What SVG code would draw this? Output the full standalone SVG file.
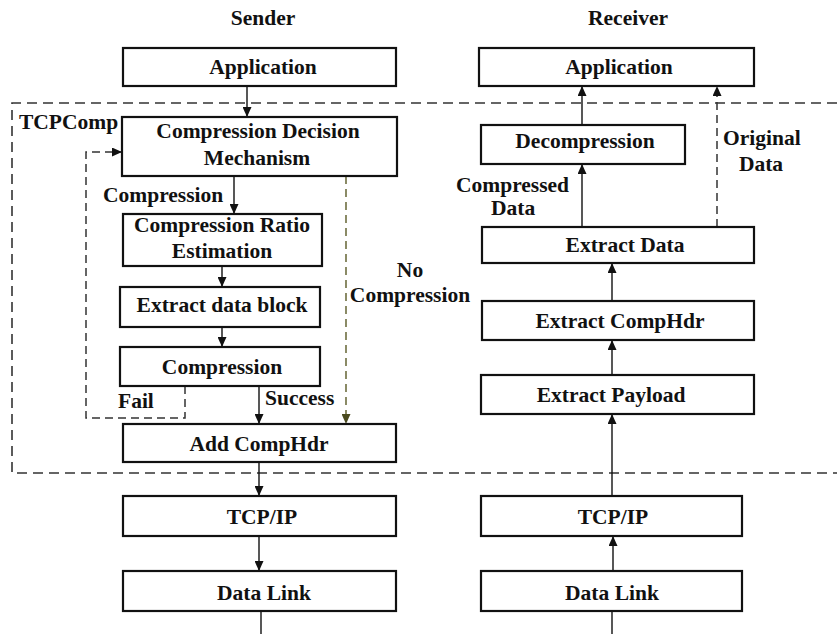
<svg xmlns="http://www.w3.org/2000/svg" width="837" height="634" viewBox="0 0 837 634">
<defs>
<style>
text{font-family:"Liberation Serif","Times New Roman",serif;font-weight:bold;font-size:21.5px;fill:#111}
.c{text-anchor:middle}
.box{fill:#fff;stroke:#111;stroke-width:2.2}
.ln{fill:none;stroke:#111;stroke-width:1.4}
.dash{fill:none;stroke:#333;stroke-width:1.6;stroke-dasharray:10 6}
.dash2{fill:none;stroke:#333;stroke-width:1.5;stroke-dasharray:8 5}
.olive{fill:none;stroke:#5a5a26;stroke-width:1.4;stroke-dasharray:8 5}
</style>
<marker id="ah" markerUnits="userSpaceOnUse" markerWidth="10" markerHeight="9" refX="10" refY="4.5" orient="auto">
<path d="M0,0 L10,4.5 L0,9 z" fill="#111"/>
</marker>
<marker id="ahO" markerUnits="userSpaceOnUse" markerWidth="10" markerHeight="9" refX="10" refY="4.5" orient="auto">
<path d="M0,0 L10,4.5 L0,9 z" fill="#4a4a1e"/>
</marker>
</defs>
<rect width="837" height="634" fill="#fff"/>

<g id="tcpcomp-region">
<path class="dash" d="M837,103 H12 V473 H837"/>
<text x="19" y="129">TCPComp</text>
</g>

<g id="headers">
<text class="c" x="263" y="25" font-size="21">Sender</text>
<text class="c" x="628" y="25" font-size="21">Receiver</text>
</g>

<g id="connectors">
<line class="ln" x1="247" y1="86" x2="247" y2="117" marker-end="url(#ah)"/>
<line class="ln" x1="234" y1="176" x2="234" y2="214" marker-end="url(#ah)"/>
<line class="ln" x1="222" y1="266" x2="222" y2="287" marker-end="url(#ah)"/>
<line class="ln" x1="222" y1="327" x2="222" y2="347" marker-end="url(#ah)"/>
<line class="ln" x1="259" y1="386" x2="259" y2="424" marker-end="url(#ah)"/>
<line class="olive" x1="346" y1="176" x2="346" y2="424" marker-end="url(#ahO)"/>
<path class="dash2" d="M185,386 V418 H86 V152 H122" marker-end="url(#ah)"/>
<line class="ln" x1="259" y1="462" x2="259" y2="496" marker-end="url(#ah)"/>
<line class="ln" x1="259" y1="536" x2="259" y2="571" marker-end="url(#ah)"/>
<line class="ln" x1="261" y1="611" x2="261" y2="634" stroke-width="2"/>
<line class="ln" x1="613" y1="571" x2="613" y2="536" marker-end="url(#ah)"/>
<line class="ln" x1="612" y1="496" x2="612" y2="414" marker-end="url(#ah)"/>
<line class="ln" x1="612" y1="375" x2="612" y2="340" marker-end="url(#ah)"/>
<line class="ln" x1="612" y1="301" x2="612" y2="263" marker-end="url(#ah)"/>
<line class="ln" x1="582" y1="227" x2="582" y2="164" marker-end="url(#ah)"/>
<line class="ln" x1="582" y1="125" x2="582" y2="86" marker-end="url(#ah)"/>
<line class="dash2" x1="717" y1="227" x2="717" y2="86" marker-end="url(#ah)"/>
<line class="ln" x1="612" y1="611" x2="612" y2="634" stroke-width="2"/>
<text x="103" y="202">Compression</text>
<text x="118" y="408">Fail</text>
<text x="265" y="405">Success</text>
<text class="c" x="410" y="277">No</text>
<text class="c" x="410" y="302">Compression</text>
<text x="456" y="192">Compressed</text>
<text x="491" y="215">Data</text>
<text x="723" y="145">Original</text>
<text class="c" x="761" y="171">Data</text>
</g>

<g id="s-app"><rect class="box" x="123" y="48" width="273" height="38"/><text class="c" x="263" y="74" font-size="23">Application</text></g>
<g id="s-cdm"><rect class="box" x="122" y="117" width="275" height="59"/><text class="c" x="258" y="138">Compression Decision</text><text class="c" x="257" y="165">Mechanism</text></g>
<g id="s-cre"><rect class="box" x="123" y="214" width="199" height="52"/><text class="c" x="222" y="232">Compression Ratio</text><text class="c" x="222" y="258">Estimation</text></g>
<g id="s-edb"><rect class="box" x="120" y="287" width="200" height="40"/><text class="c" x="222" y="312">Extract data block</text></g>
<g id="s-comp"><rect class="box" x="120" y="347" width="200" height="39"/><text class="c" x="222" y="374">Compression</text></g>
<g id="s-add"><rect class="box" x="123" y="424" width="273" height="38"/><text class="c" x="259" y="451">Add CompHdr</text></g>
<g id="s-tcp"><rect class="box" x="123" y="496" width="273" height="40"/><text class="c" x="262" y="524">TCP/IP</text></g>
<g id="s-dl"><rect class="box" x="123" y="571" width="273" height="40"/><text class="c" x="264" y="600">Data Link</text></g>

<g id="r-app"><rect class="box" x="479" y="48" width="275" height="38"/><text class="c" x="619" y="74" font-size="23">Application</text></g>
<g id="r-decomp"><rect class="box" x="481" y="125" width="204" height="39"/><text class="c" x="585" y="148">Decompression</text></g>
<g id="r-ed"><rect class="box" x="482" y="227" width="272" height="36"/><text class="c" x="625" y="252">Extract Data</text></g>
<g id="r-ech"><rect class="box" x="482" y="301" width="272" height="39"/><text class="c" x="620" y="328">Extract CompHdr</text></g>
<g id="r-ep"><rect class="box" x="481" y="375" width="273" height="39"/><text class="c" x="611" y="402">Extract Payload</text></g>
<g id="r-tcp"><rect class="box" x="481" y="496" width="261" height="40"/><text class="c" x="613" y="524">TCP/IP</text></g>
<g id="r-dl"><rect class="box" x="481" y="571" width="261" height="40"/><text class="c" x="612" y="600">Data Link</text></g>
</svg>
